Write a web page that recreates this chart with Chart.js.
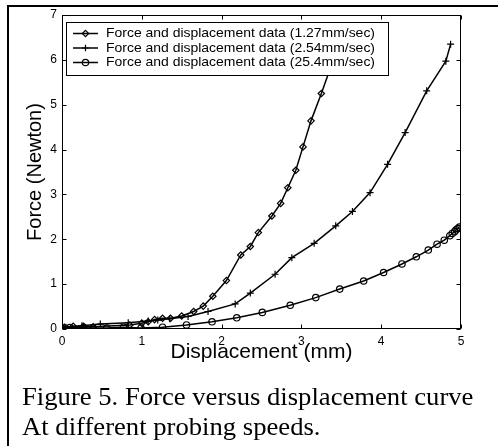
<!DOCTYPE html>
<html><head><meta charset="utf-8">
<script src="https://cdn.jsdelivr.net/npm/chart.js@4/dist/chart.umd.min.js"></script>
<style>
html,body{margin:0;padding:0;background:#fff;}
#wrap{position:relative;width:498px;height:446px;overflow:hidden;background:#fff;}
#c{position:absolute;left:0;top:0;}
#frame{position:absolute;left:7px;top:5px;width:520px;height:480px;border-top:2px solid #000;border-left:2px solid #000;pointer-events:none;}
.cap{position:absolute;left:22px;font-family:'Liberation Serif','Times New Roman',serif;font-size:26px;line-height:30px;white-space:nowrap;transform-origin:0 0;transform:scaleX(1.025);color:#000;}
</style></head><body>
<div id="wrap">
<canvas id="c" width="498" height="446"></canvas>
<div id="frame"></div>
<div class="cap" style="top:382px">Figure 5. Force versus displacement curve</div>
<div class="cap" style="top:412px">At different probing speeds.</div>
</div>
<script>
// ---- data ----
const xTicks = [0, 1, 2, 3, 4, 5];
const yTicks = [0, 1, 2, 3, 4, 5, 6, 7];
const seriesNames = [
  'Force and displacement data (1.27mm/sec)',
  'Force and displacement data (2.54mm/sec)',
  'Force and displacement data (25.4mm/sec)'
];
const x127 = [0, 0.03, 0.14, 0.27, 0.39, 0.85, 1.0, 1.08, 1.16, 1.26, 1.36, 1.50, 1.65, 1.77, 1.89, 2.06, 2.24, 2.36, 2.46, 2.63, 2.74, 2.83, 2.93, 3.02, 3.12, 3.25, 3.40, 3.47];
const y127 = [0.02, 0.04, 0.06, 0.06, 0.05, 0.09, 0.13, 0.16, 0.21, 0.24, 0.24, 0.29, 0.39, 0.51, 0.73, 1.08, 1.65, 1.84, 2.15, 2.52, 2.80, 3.15, 3.54, 4.06, 4.64, 5.25, 6.00, 6.40];
const x254 = [0, 0.05, 0.25, 0.48, 0.83, 1.08, 1.20, 1.35, 1.58, 1.83, 2.17, 2.36, 2.67, 2.88, 3.16, 3.43, 3.64, 3.86, 4.08, 4.30, 4.57, 4.81, 4.87];
const y254 = [0.02, 0.04, 0.07, 0.11, 0.14, 0.18, 0.20, 0.23, 0.28, 0.39, 0.56, 0.80, 1.22, 1.59, 1.91, 2.30, 2.62, 3.04, 3.67, 4.38, 5.31, 5.97, 6.35];
const x25 = [0, 0.10, 0.27, 0.39, 0.56, 0.77, 0.99, 1.26, 1.56, 1.88, 2.19, 2.51, 2.86, 3.18, 3.48, 3.78, 4.03, 4.26, 4.44, 4.59, 4.70, 4.79, 4.86, 4.89, 4.92, 4.94, 4.96, 4.98];
const y25 = [0.02, 0.03, 0.03, 0.02, 0.02, 0.04, 0.02, 0.04, 0.09, 0.16, 0.25, 0.37, 0.53, 0.70, 0.89, 1.07, 1.26, 1.45, 1.61, 1.76, 1.89, 1.98, 2.08, 2.13, 2.17, 2.21, 2.24, 2.27];
const markerStyles = ['rectRot', 'cross', 'circle'];

const toPts = (xs, ys) => xs.map((x, i) => ({ x: x, y: ys[i] }));

function drawMarker(ctx, style, cx, cy, r) {
  ctx.beginPath();
  if (style === 'rectRot') {
    ctx.moveTo(cx, cy - r); ctx.lineTo(cx + r, cy); ctx.lineTo(cx, cy + r); ctx.lineTo(cx - r, cy); ctx.closePath();
  } else if (style === 'cross') {
    ctx.moveTo(cx - r, cy); ctx.lineTo(cx + r, cy); ctx.moveTo(cx, cy - r); ctx.lineTo(cx, cy + r);
  } else {
    ctx.arc(cx, cy, r, 0, Math.PI * 2);
  }
  ctx.stroke();
}

const boxPlugin = {
  id: 'matlabBox',
  afterDatasetsDraw(chart) {
    const { ctx, chartArea: a, scales } = chart;
    const L = Math.round(a.left) + 0.5, R = Math.round(a.right) - 0.5;
    const T = Math.round(a.top) + 0.5, B = Math.round(a.bottom) - 0.5;
    ctx.save();
    ctx.strokeStyle = '#000';
    ctx.lineWidth = 1;
    ctx.strokeRect(L, T, R - L, B - T);
    const tl = 4;
    ctx.beginPath();
    xTicks.forEach(v => {
      const px = Math.round(scales.x.getPixelForValue(v)) + 0.5;
      ctx.moveTo(px, B); ctx.lineTo(px, B - tl);
      ctx.moveTo(px, T); ctx.lineTo(px, T + tl);
    });
    yTicks.forEach(v => {
      const py = Math.round(scales.y.getPixelForValue(v)) + 0.5;
      ctx.moveTo(L, py); ctx.lineTo(L + tl, py);
      ctx.moveTo(R, py); ctx.lineTo(R - tl, py);
    });
    ctx.stroke();

    // legend box inside the axes
    const bx = 66.5, by = 22.5, bw = 322, bh = 53;
    ctx.fillStyle = '#fff';
    ctx.fillRect(bx, by, bw, bh);
    ctx.strokeRect(bx, by, bw, bh);
    const rows = [33.5, 48, 62.5];
    ctx.font = '13px "Liberation Sans", Arial, sans-serif';
    ctx.textBaseline = 'middle';
    ctx.textAlign = 'left';
    chart.data.datasets.forEach((ds, i) => {
      const yy = rows[i];
      ctx.strokeStyle = '#000';
      ctx.lineWidth = 1.5;
      ctx.beginPath(); ctx.moveTo(73, yy); ctx.lineTo(98, yy); ctx.stroke();
      ctx.lineWidth = 1.2;
      drawMarker(ctx, ds.pointStyle, 85.5, yy, 3.2);
      const w = ctx.measureText(ds.label).width;
      const sx = 269 / w;
      ctx.save();
      ctx.translate(106, yy);
      ctx.scale(sx, 1);
      ctx.fillStyle = '#000';
      ctx.fillText(ds.label, 0, 0);
      ctx.restore();
    });
    ctx.restore();
  }
};

const mk = (i, xs, ys) => ({
  label: seriesNames[i],
  data: toPts(xs, ys),
  showLine: true,
  borderColor: '#000',
  borderWidth: 1.5,
  pointStyle: markerStyles[i],
  pointRadius: i === 1 ? 3.5 : 3.2,
  pointBorderWidth: 1.2,
  pointBorderColor: '#000',
  pointBackgroundColor: 'rgba(0,0,0,0)',
  tension: 0
});

const tickFont = { family: '"Liberation Sans", Arial, sans-serif', size: 12 };

new Chart(document.getElementById('c'), {
  type: 'scatter',
  data: { datasets: [mk(0, x127, y127), mk(1, x254, y254), mk(2, x25, y25)] },
  options: {
    responsive: false,
    animation: false,
    events: [],
    layout: { padding: { left: 0, top: 15, right: 37, bottom: 77 } },
    plugins: { legend: { display: false }, tooltip: { enabled: false } },
    scales: {
      x: {
        type: 'linear', min: 0, max: 5,
        afterBuildTicks: s => { s.ticks = xTicks.map(v => ({ value: v })); },
        afterFit: s => { s.height = 40; },
        grid: { display: false, drawTicks: false },
        border: { display: false },
        ticks: { color: '#000', font: tickFont, padding: 5, maxRotation: 0, autoSkip: false },
        title: { display: true, text: 'Displacement (mm)', color: '#000', font: { family: '"Liberation Sans", Arial, sans-serif', size: 21 }, padding: { top: 0, bottom: 4 } }
      },
      y: {
        type: 'linear', min: 0, max: 7,
        afterBuildTicks: s => { s.ticks = yTicks.map(v => ({ value: v })); },
        afterFit: s => { s.width = 62; },
        grid: { display: false, drawTicks: false },
        border: { display: false },
        ticks: { color: '#000', font: tickFont, padding: 5, autoSkip: false },
        title: { display: true, text: 'Force (Newton)', color: '#000', font: { family: '"Liberation Sans", Arial, sans-serif', size: 20 }, padding: { top: 23, bottom: 0 } }
      }
    }
  },
  plugins: [boxPlugin]
});
</script>
</body></html>
